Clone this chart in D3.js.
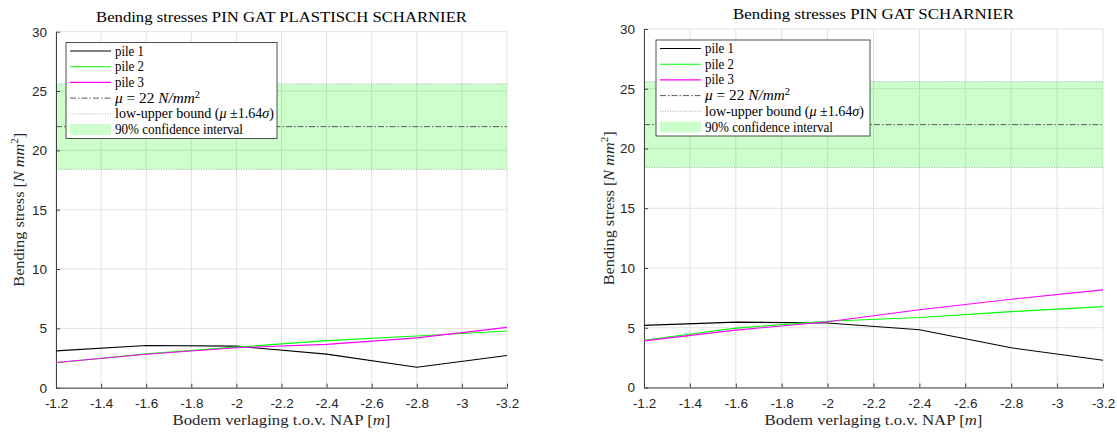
<!DOCTYPE html>
<html>
<head>
<meta charset="utf-8">
<script src="https://cdn.jsdelivr.net/npm/d3@7"></script>
<style>
  html, body { margin: 0; padding: 0; background: #fff; }
  svg { display: block; }
</style>
</head>
<body>
<svg id="chart" width="1117" height="433"></svg>
<script>
// ---------- DATA ----------
const depths = [-1.2, -1.6, -2.0, -2.4, -2.8, -3.2];            // Bodem verlaging t.o.v. NAP [m]
const plastPile1 = [3.10, 3.56, 3.50, 2.83, 1.73, 2.72];         // PIN GAT PLASTISCH SCHARNIER
const plastPile2 = [2.10, 2.85, 3.42, 3.97, 4.36, 4.78];
const plastPile3 = [2.12, 2.82, 3.37, 3.65, 4.20, 5.08];
const scharPile1 = [5.20, 5.47, 5.40, 4.83, 3.32, 2.28];         // PIN GAT SCHARNIER
const scharPile2 = [3.95, 4.97, 5.55, 5.86, 6.35, 6.77];
const scharPile3 = [3.90, 4.80, 5.50, 6.51, 7.38, 8.17];
const muValue = 22;
const lowerBound = 18.4;
const upperBound = 25.6;
const xTicks = [-1.2, -1.4, -1.6, -1.8, -2.0, -2.2, -2.4, -2.6, -2.8, -3.0, -3.2];
const xTickLabels = ["-1.2", "-1.4", "-1.6", "-1.8", "-2", "-2.2", "-2.4", "-2.6", "-2.8", "-3", "-3.2"];
const yTicks = [0, 5, 10, 15, 20, 25, 30];
const yTickLabels = ["0", "5", "10", "15", "20", "25", "30"];
const seriesNames = ["pile 1", "pile 2", "pile 3"];
const seriesColors = ["#000000", "#00ff00", "#ff00ff"];
const titles = ["Bending stresses PIN GAT PLASTISCH SCHARNIER", "Bending stresses PIN GAT SCHARNIER"];

// ---------- DRAW ----------
const svg = d3.select("#chart");
const serif = "'Liberation Serif', 'DejaVu Serif', serif";
const sans = "'Liberation Sans', Arial, sans-serif";

const panels = [
  { x0: 56, x1: 507, y0: 31.7, y1: 387.7, title: titles[0], titleW: 371, series: [plastPile1, plastPile2, plastPile3],
    legX: 66, legY: 42.5, legW: 211, ylabX: 19 },
  { x0: 644, x1: 1103, y0: 29, y1: 387.5, title: titles[1], titleW: 281, series: [scharPile1, scharPile2, scharPile3],
    legX: 656, legY: 40, legW: 214, ylabX: 609 }
];

panels.forEach(p => {
  const g = svg.append("g");
  const x = d3.scaleLinear().domain([-1.2, -3.2]).range([p.x0, p.x1]);
  const y = d3.scaleLinear().domain([0, 30]).range([p.y1, p.y0]);

  // grid
  g.append("g").selectAll("line").data(xTicks).join("line")
    .attr("x1", d => x(d)).attr("x2", d => x(d)).attr("y1", p.y0).attr("y2", p.y1)
    .attr("stroke", "#e1e1e1").attr("stroke-width", 1);
  g.append("g").selectAll("line").data(yTicks).join("line")
    .attr("x1", p.x0).attr("x2", p.x1).attr("y1", d => y(d)).attr("y2", d => y(d))
    .attr("stroke", "#e1e1e1").attr("stroke-width", 1);

  // confidence band
  g.append("rect")
    .attr("x", x(-1.2)).attr("width", x(-3.2) - x(-1.2))
    .attr("y", y(upperBound)).attr("height", y(lowerBound) - y(upperBound))
    .attr("fill", "#00ff00").attr("fill-opacity", 0.2);
  // bounds
  [lowerBound, upperBound].forEach(b => {
    g.append("line").attr("x1", x(-1.2)).attr("x2", x(-3.2)).attr("y1", y(b)).attr("y2", y(b))
      .attr("stroke", "#8a8a8a").attr("stroke-width", 0.7).attr("stroke-dasharray", "1,1.5");
  });
  // mean
  g.append("line").attr("x1", x(-1.2)).attr("x2", x(-3.2)).attr("y1", y(muValue)).attr("y2", y(muValue))
    .attr("stroke", "#5a5a5a").attr("stroke-width", 1).attr("stroke-dasharray", "6,2,1.5,2");

  // axes
  const xAxis = d3.axisBottom(x).tickValues(xTicks).tickFormat((d, i) => xTickLabels[i])
    .tickSizeInner(-4).tickSizeOuter(0).tickPadding(11);
  const yAxis = d3.axisLeft(y).tickValues(yTicks).tickFormat((d, i) => yTickLabels[i])
    .tickSizeInner(-4).tickSizeOuter(0).tickPadding(9);
  const xa = g.append("g").attr("transform", `translate(0,${p.y1})`).call(xAxis);
  const ya = g.append("g").attr("transform", `translate(${p.x0},0)`).call(yAxis);
  [xa, ya].forEach(a => {
    a.selectAll("path, line").attr("stroke", "#404040").attr("stroke-width", 1);
    a.selectAll("text").attr("fill", "#262626").style("font-family", sans).style("font-size", "13.5px");
  });

  // series lines
  const line = d3.line().x((d, i) => x(depths[i])).y(d => y(d));
  p.series.forEach((s, k) => {
    g.append("path").datum(s).attr("d", line).attr("fill", "none")
      .attr("stroke", seriesColors[k]).attr("stroke-width", 1.1);
  });

  // title
  g.append("text").attr("x", (p.x0 + p.x1) / 2).attr("y", p.y0 - 10)
    .attr("text-anchor", "middle").attr("fill", "#000")
    .style("font-family", serif).style("font-size", "14.5px")
    .attr("textLength", p.titleW).attr("lengthAdjust", "spacingAndGlyphs")
    .text(p.title);

  // x label
  const xl = g.append("text").attr("x", (p.x0 + p.x1) / 2).attr("y", 424.5)
    .attr("text-anchor", "middle").attr("fill", "#262626")
    .style("font-family", serif).style("font-size", "14.5px")
    .attr("textLength", 218).attr("lengthAdjust", "spacingAndGlyphs");
  xl.append("tspan").text("Bodem verlaging t.o.v. NAP [");
  xl.append("tspan").style("font-style", "italic").text("m");
  xl.append("tspan").text("]");

  // y label
  const yl = g.append("text")
    .attr("transform", `translate(${p.ylabX + 5},${(p.y0 + p.y1) / 2}) rotate(-90)`)
    .attr("text-anchor", "middle").attr("fill", "#262626")
    .style("font-family", serif).style("font-size", "14.5px")
    .attr("textLength", 154).attr("lengthAdjust", "spacingAndGlyphs");
  yl.append("tspan").text("Bending stress [");
  yl.append("tspan").style("font-style", "italic").text("N mm");
  yl.append("tspan").attr("dy", -6).style("font-size", "10px").text("2");
  yl.append("tspan").attr("dy", 6).text("]");

  // legend
  const lg = g.append("g").attr("transform", `translate(${p.legX},${p.legY})`);
  lg.append("rect").attr("x", 0).attr("y", 0).attr("width", p.legW).attr("height", 96)
    .attr("fill", "#fff").attr("stroke", "#262626").attr("stroke-width", 0.8);
  const rowY = k => 8.5 + k * 15.7;
  const lx0 = 4, lx1 = 45, tx = 49;
  seriesNames.forEach((n, k) => {
    lg.append("line").attr("x1", lx0).attr("x2", lx1).attr("y1", rowY(k)).attr("y2", rowY(k))
      .attr("stroke", seriesColors[k]).attr("stroke-width", 1.1);
  });
  lg.append("line").attr("x1", lx0).attr("x2", lx1).attr("y1", rowY(3)).attr("y2", rowY(3))
    .attr("stroke", "#5a5a5a").attr("stroke-width", 1).attr("stroke-dasharray", "6,2,1.5,2");
  lg.append("line").attr("x1", lx0).attr("x2", lx1).attr("y1", rowY(4)).attr("y2", rowY(4))
    .attr("stroke", "#8a8a8a").attr("stroke-width", 0.7).attr("stroke-dasharray", "1,1.5");
  lg.append("rect").attr("x", lx0).attr("y", rowY(5) - 5.5).attr("width", lx1 - lx0).attr("height", 11)
    .attr("fill", "#00ff00").attr("fill-opacity", 0.2);

  const widths = [29, 29, 29, 85, 159, 128];
  const texts = [];
  for (let k = 0; k < 6; k++) {
    texts.push(lg.append("text").attr("x", tx).attr("y", rowY(k) + 4.5).attr("fill", "#000")
      .style("font-family", serif).style("font-size", "14px")
      .attr("textLength", widths[k]).attr("lengthAdjust", "spacingAndGlyphs"));
  }
  seriesNames.forEach((n, k) => texts[k].text(n));
  texts[3].append("tspan").style("font-style", "italic").text("μ");
  texts[3].append("tspan").text(" = " + muValue + " ");
  texts[3].append("tspan").style("font-style", "italic").text("N/mm");
  texts[3].append("tspan").attr("dy", -5).style("font-size", "9.5px").text("2");
  texts[4].append("tspan").text("low-upper bound (");
  texts[4].append("tspan").style("font-style", "italic").text("μ");
  texts[4].append("tspan").text(" ±1.64");
  texts[4].append("tspan").style("font-style", "italic").text("σ");
  texts[4].append("tspan").text(")");
  texts[5].text("90% confidence interval");
});
</script>
</body>
</html>
